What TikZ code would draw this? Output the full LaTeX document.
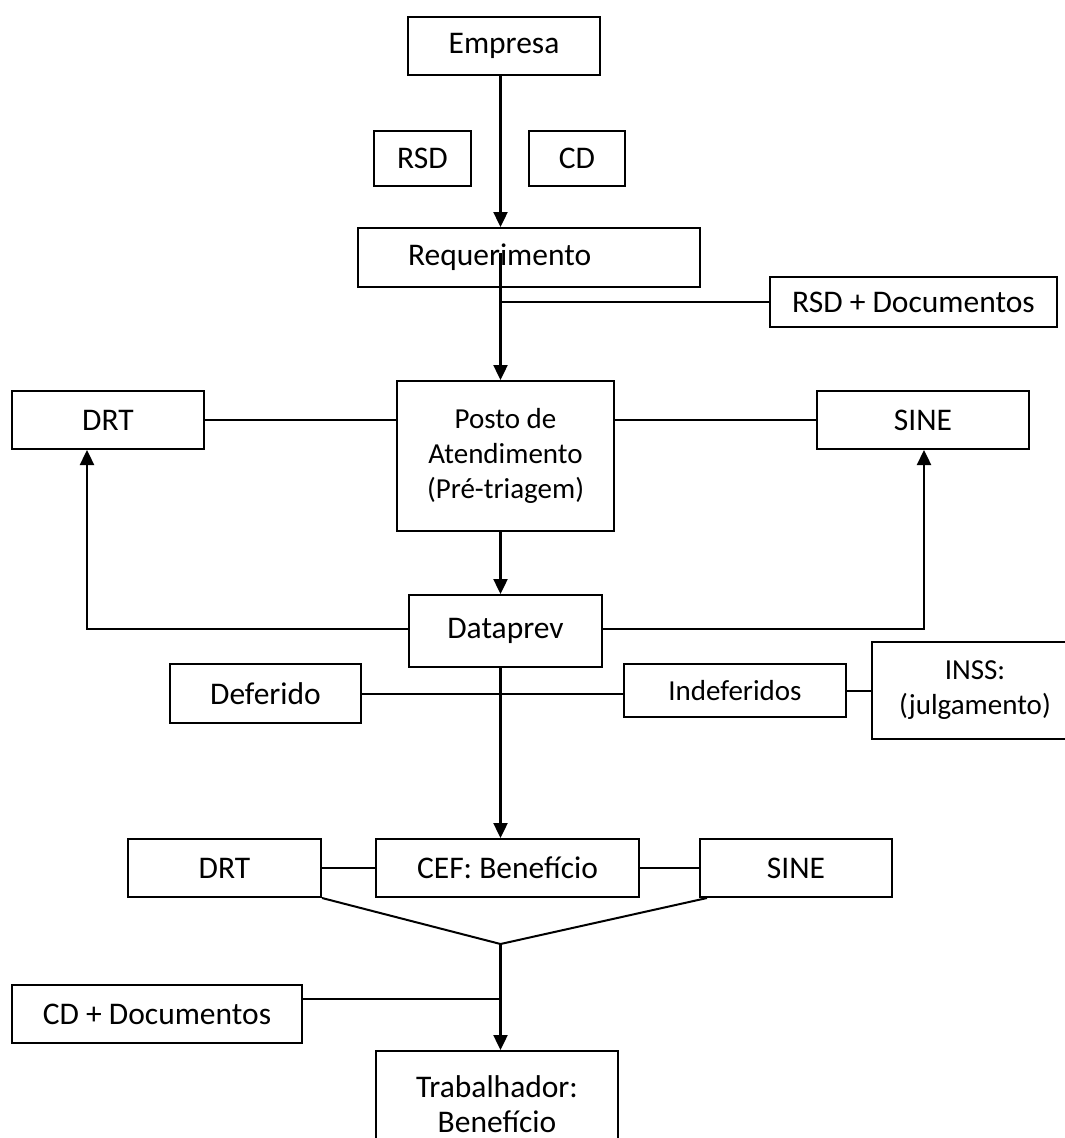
\documentclass[tikz,border=0pt]{standalone}
\usepackage{fontspec}
\setmainfont{Carlito}
\usetikzlibrary{arrows.meta}
\tikzset{
	box/.style={draw, line width=2pt, rectangle, inner sep=0pt, align=center, font=\fontsize{31.5}{35}\selectfont},
	boxsmall/.style={box, font=\fontsize{29}{35}\selectfont},
	link/.style={line width=2pt},
	arr/.style={line width=2.4pt, -{Triangle[length=15pt,width=14pt]}}
}

\begin{document}
\begin{tikzpicture}[x=1pt,y=-1pt]
		%%%%% START %%%%%
		\useasboundingbox (0,0) rectangle (1065,1138);
		\coordinate (spine) at (500.5,0);
		
		\node[box, minimum width=192pt, minimum height=58pt] (empresa) at (504,46) {Empresa};
		\node[box, minimum width=97pt, minimum height=55pt] (rsd) at (422.5,158.5) {RSD};
		\node[box, minimum width=96pt, minimum height=55pt] (cd) at (577,158.5) {CD};
		\node[box, minimum width=342pt, minimum height=59pt, inner xsep=50pt, text width=242pt, align=left] (req) at (529,257.5) {Requerimento};
		\node[box, minimum width=287pt, minimum height=50pt] (rsddoc) at (913.5,302) {RSD + Documentos};
		
		\node[boxsmall, minimum width=217pt, minimum height=150pt] (posto) at (505.5,456) {Posto de\\Atendimento\\(Pré-triagem)};
		\node[box, minimum width=192pt, minimum height=58pt] (drtA) at (108,420) {DRT};
		\node[box, minimum width=212pt, minimum height=58pt] (sineA) at (923,420) {SINE};
		\node[box, minimum width=193pt, minimum height=72pt] (dataprev) at (505.5,631) {Dataprev};
		
		\node[box, minimum width=191pt, minimum height=59pt] (deferido) at (265.5,693.5) {Deferido};
		\node[boxsmall, minimum width=222pt, minimum height=53pt] (indef) at (735,690.5) {Indeferidos};
		\node[boxsmall, minimum width=206pt, minimum height=97pt] (inss) at (975,690.5) {INSS:\\(julgamento)};
		
		\node[box, minimum width=193pt, minimum height=58pt] (drtB) at (224.5,868) {DRT};
		\node[box, minimum width=263pt, minimum height=58pt] (cef) at (507.5,868) {CEF: Benefício};
		\node[box, minimum width=192pt, minimum height=58pt] (sineB) at (796,868) {SINE};
		
		\node[box, minimum width=290pt, minimum height=58pt] (cddoc) at (157,1014) {CD + Documentos};
		\node[box, minimum width=242pt, minimum height=106pt] (trab) at (497,1104) {Trabalhador:\\Benefício};
		
		% main flow
		\draw[arr] (empresa.south -| spine) -- (req.north -| spine);
		\coordinate (reqin) at (500.5,253);
		\draw[arr] (reqin) -- (posto.north -| spine);
		\draw[link] (rsddoc.west) -- (rsddoc.west -| spine);
		\draw[arr] (posto.south -| spine) -- (dataprev.north -| spine);
		\draw[arr] (dataprev.south -| spine) -- (cef.north -| spine);
		
		% side links
		\draw[link] (drtA.east) -- (drtA.east -| posto.west);
		\draw[link] (posto.east |- sineA.west) -- (sineA.west);
		
		\coordinate (dlturn) at (87,629);
		\coordinate (drturn) at (924,629);
		\draw[arr] (dataprev.west |- dlturn) -- (dlturn) -- (dlturn |- drtA.south);
		\draw[arr] (dataprev.east |- drturn) -- (drturn) -- (drturn |- sineA.south);
		
		\draw[link] (deferido.east) -- (deferido.east -| indef.west);
		\draw[link] (indef.east) -- (inss.west);
		
		\draw[link] (drtB.east) -- (cef.west);
		\draw[link] (cef.east) -- (sineB.west);
		
		\coordinate (vjoin) at (500.5,944);
		\draw[link] (drtB.south east) -- (vjoin) -- ([xshift=8pt]sineB.south west);
		\draw[arr] (vjoin) -- (trab.north -| spine);
		
		\coordinate (cdjoin) at (500.5,999);
		\draw[link] (cdjoin -| cddoc.east) -- (cdjoin);
		
		%%%%% END %%%%%
	\end{tikzpicture}
\end{document}
